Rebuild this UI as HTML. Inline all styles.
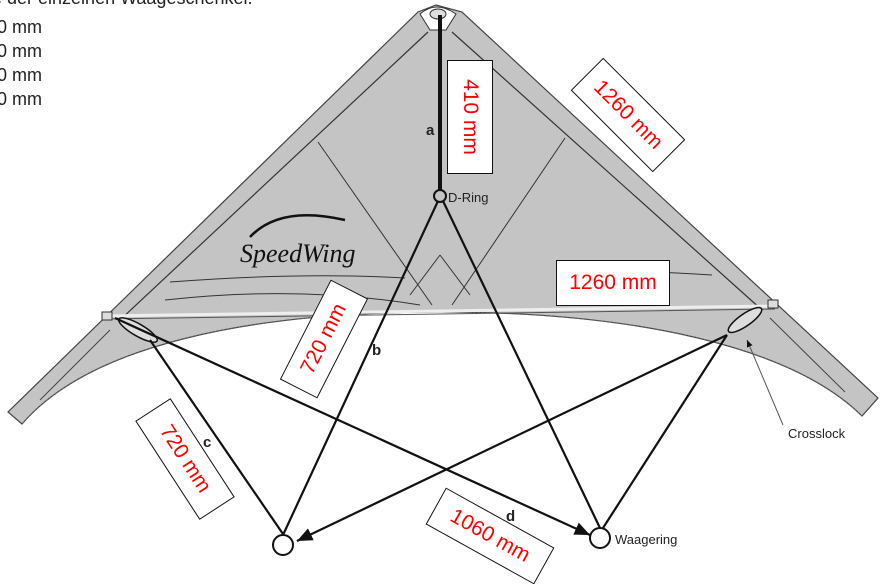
<!DOCTYPE html>
<html><head><meta charset="utf-8"><style>
body{margin:0;background:#fff;width:884px;height:569px;overflow:hidden;position:relative;font-family:"Liberation Sans",sans-serif}
.t{position:absolute;font-size:18px;color:#222}
.b{position:absolute;background:#fff;border:1.3px solid #111;color:#f00;font-family:"Liberation Sans",sans-serif;font-size:21px;display:flex;align-items:center;justify-content:center;white-space:nowrap;box-sizing:border-box}
</style></head><body>
<svg width="884" height="569" style="position:absolute;left:0;top:0">
<defs><marker id="ar" markerWidth="8" markerHeight="8" refX="7" refY="4" orient="auto"><path d="M0,1 L7,4 L0,7 z" fill="#111"/></marker></defs>
<!-- sail -->
<path d="M418,12 L436,5 L462,12 L878,398 L862,416 C790,345 630,312 440,312 C250,312 90,345 22,424 L8,412 Z" fill="#c4c4c4" stroke="#444" stroke-width="1.2"/>
<path d="M862,416 C790,345 630,312 440,312 C250,312 90,345 22,424" fill="none" stroke="#666" stroke-width="1" stroke-dasharray="2,2"/>
<!-- inner spars -->
<line x1="428" y1="32" x2="120" y2="320" stroke="#333" stroke-width="1.2"/>
<line x1="452" y1="32" x2="762" y2="310" stroke="#333" stroke-width="1.2"/>
<line x1="110" y1="330" x2="40" y2="400" stroke="#444" stroke-width="1"/>
<line x1="770" y1="318" x2="845" y2="392" stroke="#444" stroke-width="1"/>
<line x1="105" y1="316" x2="775" y2="306" stroke="#eee" stroke-width="3"/>
<line x1="105" y1="319" x2="775" y2="309" stroke="#555" stroke-width="1"/>
<!-- sail seams -->
<g stroke="#333" stroke-width="1" fill="none">
<line x1="318" y1="142" x2="432" y2="305"/>
<line x1="565" y1="138" x2="452" y2="305"/>
<line x1="410" y1="295" x2="440" y2="255"/>
<line x1="470" y1="295" x2="440" y2="255"/>
<path d="M170,282 Q300,272 405,278"/>
<path d="M560,272 Q640,270 712,275"/>
<path d="M165,300 Q300,285 420,305"/>
</g>
<!-- logo -->
<path d="M250,237 Q280,205 345,220" fill="none" stroke="#111" stroke-width="2.5"/>
<text x="240" y="262" font-family="Liberation Serif,serif" font-style="italic" font-size="26" fill="#111">SpeedWing</text>
<!-- nose -->
<path d="M420,14 Q436,0 456,14 L446,30 L430,30 Z" fill="#fff" stroke="#333"/>
<ellipse cx="438" cy="14" rx="8" ry="5" fill="#ddd" stroke="#333"/>
<!-- a -->
<line x1="440" y1="15" x2="440" y2="190" stroke="#111" stroke-width="4"/>
<circle cx="440" cy="196" r="6" fill="none" stroke="#111" stroke-width="2"/>
<!-- crosslocks -->
<ellipse cx="138" cy="330" rx="22" ry="6" transform="rotate(30 138 330)" fill="#ddd" stroke="#111" stroke-width="1.5"/>
<ellipse cx="745" cy="320" rx="20" ry="6" transform="rotate(-35 745 320)" fill="#ddd" stroke="#111" stroke-width="1.5"/>
<rect x="102" y="312" width="10" height="8" fill="#ddd" stroke="#333"/>
<rect x="768" y="300" width="10" height="8" fill="#ddd" stroke="#333"/>
<!-- bridle lines -->
<g stroke="#111" stroke-width="2.2" fill="none">
<line x1="438" y1="201" x2="283" y2="535"/>
<line x1="443" y1="201" x2="600" y2="528"/>
<line x1="150" y1="340" x2="283" y2="534"/>
<line x1="115" y1="318" x2="590" y2="535" marker-end="url(#ar)"/>
<line x1="727" y1="335" x2="603" y2="528"/>
<line x1="727" y1="335" x2="297" y2="541" marker-end="url(#ar)"/>
</g>
<line x1="783" y1 ="425" x2="747" y2="340" stroke="#555" stroke-width="1" marker-end="url(#ar)"/>
<circle cx="283" cy="545" r="10" fill="#fff" stroke="#111" stroke-width="2"/>
<circle cx="600" cy="538" r="10" fill="#fff" stroke="#111" stroke-width="2"/>
<g font-family="Liberation Sans,sans-serif" font-weight="bold" font-size="15" fill="#222">
<text x="426" y="135">a</text><text x="372" y="355">b</text><text x="203" y="447">c</text><text x="506" y="521">d</text></g>
<g font-family="Liberation Sans,sans-serif" font-size="13" fill="#222">
<text x="448" y="202">D-Ring</text><text x="615" y="544">Waagering</text><text x="788" y="438">Crosslock</text></g>
</svg>
<div class="t" style="left:-8px;top:-12px">e der einzelnen Waageschenkel.</div>
<div class="t" style="left:-3px;top:17px">0 mm</div>
<div class="t" style="left:-3px;top:41px">0 mm</div>
<div class="t" style="left:-3px;top:65px">0 mm</div>
<div class="t" style="left:-3px;top:89px">0 mm</div>
<div class="b" style="left:413px;top:94px;width:114px;height:46px;transform:rotate(90deg)">410 mm</div>
<div class="b" style="left:570px;top:92px;width:116px;height:46px;transform:rotate(45deg)">1260 mm</div>
<div class="b" style="left:556px;top:260px;width:114px;height:46px">1260 mm</div>
<div class="b" style="left:268px;top:318px;width:112px;height:42px;transform:rotate(-63deg)">720 mm</div>
<div class="b" style="left:126px;top:438px;width:118px;height:42px;transform:rotate(57deg)">720 mm</div>
<div class="b" style="left:428px;top:515px;width:124px;height:42px;transform:rotate(29deg)">1060 mm</div>
</body></html>
